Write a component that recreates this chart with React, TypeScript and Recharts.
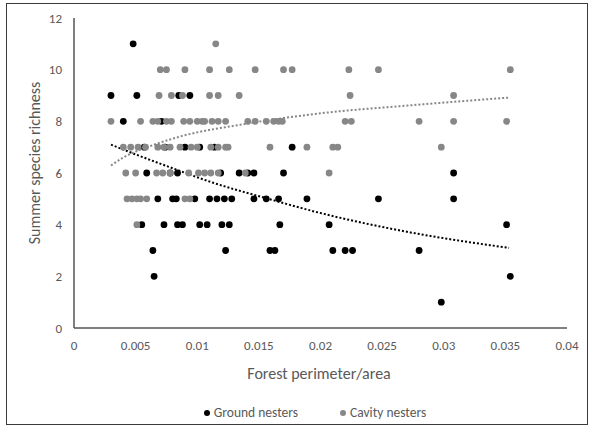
import { ComposedChart, Scatter, Line, XAxis, YAxis } from 'recharts';

// richness values, one array per y level
const groundX: number[] = [
  0.0048,
  0.003, 0.0051, 0.0085, 0.0094,
  0.004, 0.0071,
  0.0057, 0.0074, 0.009, 0.0102, 0.0114, 0.0177,
  0.0059, 0.0078, 0.0084, 0.0119, 0.0134, 0.0141, 0.0146, 0.017, 0.0308,
  0.0068, 0.008, 0.0083, 0.0098, 0.011, 0.0116, 0.0122, 0.0128, 0.0146, 0.0156, 0.0166, 0.0189, 0.0247, 0.0308,
  0.0055, 0.0073, 0.0084, 0.0088, 0.0102, 0.0108, 0.012, 0.0126, 0.0167, 0.0207, 0.0351,
  0.0064, 0.0123, 0.0159, 0.0163, 0.021, 0.022, 0.0226, 0.028,
  0.0065, 0.0354,
  0.0298,
];
const groundY: number[] = [
  11,
  9, 9, 9, 9,
  8, 8,
  7, 7, 7, 7, 7, 7,
  6, 6, 6, 6, 6, 6, 6, 6, 6,
  5, 5, 5, 5, 5, 5, 5, 5, 5, 5, 5, 5, 5, 5,
  4, 4, 4, 4, 4, 4, 4, 4, 4, 4, 4,
  3, 3, 3, 3, 3, 3, 3, 3,
  2, 2,
  1,
];

const cavityX: number[] = [
  0.0115,
  0.007, 0.0075, 0.009, 0.011, 0.0126, 0.0147, 0.017, 0.0177, 0.0223, 0.0247, 0.0354,
  0.0069, 0.0079, 0.0088, 0.011, 0.0117, 0.0134, 0.0224, 0.0308,
  0.003, 0.0054, 0.0064, 0.0068, 0.0075, 0.0079, 0.0089, 0.0094, 0.01, 0.0104, 0.0106, 0.0112, 0.0117, 0.0123,
  0.0141, 0.0147, 0.0156, 0.0162, 0.0166, 0.0169, 0.022, 0.0225, 0.028, 0.0308, 0.0351,
  0.004, 0.0046, 0.0052, 0.0058, 0.0068, 0.0073, 0.0078, 0.0086, 0.0095, 0.01, 0.0111, 0.0117, 0.0123, 0.0125,
  0.0159, 0.0189, 0.021, 0.0214, 0.0298,
  0.0042, 0.005, 0.0067, 0.0072, 0.0078, 0.0093, 0.0101, 0.0106, 0.0111, 0.0117, 0.0139, 0.0207,
  0.0043, 0.0047, 0.0051, 0.0054, 0.0059, 0.009, 0.0094,
  0.0051,
];
const cavityY: number[] = [
  11,
  10, 10, 10, 10, 10, 10, 10, 10, 10, 10, 10,
  9, 9, 9, 9, 9, 9, 9, 9,
  8, 8, 8, 8, 8, 8, 8, 8, 8, 8, 8, 8, 8, 8,
  8, 8, 8, 8, 8, 8, 8, 8, 8, 8, 8,
  7, 7, 7, 7, 7, 7, 7, 7, 7, 7, 7, 7, 7, 7,
  7, 7, 7, 7, 7,
  6, 6, 6, 6, 6, 6, 6, 6, 6, 6, 6, 6,
  5, 5, 5, 5, 5, 5, 5,
  4,
];

// trendline points
const groundTrendX = [0.003, 0.005, 0.0078, 0.0113, 0.0154, 0.02, 0.0273, 0.0353];
const groundTrendY = [7.1, 6.72, 6.22, 5.62, 5.05, 4.45, 3.7, 3.1];
const cavityTrendX = [0.003, 0.004, 0.005, 0.0064, 0.0086, 0.0139, 0.02, 0.0273, 0.0353];
const cavityTrendY = [6.29, 6.6, 6.83, 7.08, 7.41, 7.9, 8.31, 8.62, 8.92];

const xTicks = [0, 0.005, 0.01, 0.015, 0.02, 0.025, 0.03, 0.035, 0.04];
const yTicks = [0, 2, 4, 6, 8, 10, 12];

const FONT = 'Carlito, Lato, sans-serif';
const TEXT = '#595959';
const BLACK = '#000000';
const GRAY = '#878787';

const zip = (xs: number[], ys: number[]) => xs.map((x, i) => ({ x, y: ys[i] }));

const ground = zip(groundX, groundY);
const cavity = zip(cavityX, cavityY);
const groundTrend = zip(groundTrendX, groundTrendY);
const cavityTrend = zip(cavityTrendX, cavityTrendY);

const dot = (fill: string) => (props: any) => (
  <circle cx={props.cx} cy={props.cy} r={3.4} fill={fill} />
);

export default function App() {
  return (
    <div style={{ position: 'absolute', left: 0, top: 0, width: 590, height: 429, background: '#fff', fontFamily: FONT }}>
      <div style={{ position: 'absolute', left: 6, top: 3, width: 580, height: 420, border: '1px solid #3a3a3a' }} />
      <div style={{ position: 'absolute', left: 0, top: 0 }}>
        <ComposedChart width={590} height={429} margin={{ top: 18, right: 23, left: 0, bottom: 71 }}>
          <XAxis
            dataKey="x"
            type="number"
            domain={[0, 0.04]}
            ticks={xTicks}
            tickFormatter={(v: number) => String(v)}
            height={30}
            tickLine={false}
            tickSize={0}
            tickMargin={13}
            stroke="#555"
            strokeWidth={1.5}
            tick={{ fill: TEXT, fontSize: 13, fontFamily: FONT }}
            allowDataOverflow
            label={{
              content: () => (
                <text x={319} y={373} textAnchor="middle" dominantBaseline="central" fill={TEXT} fontSize={16} fontFamily={FONT}>
                  Forest perimeter/area
                </text>
              ),
            }}
          />
          <YAxis
            dataKey="y"
            type="number"
            domain={[0, 12]}
            ticks={yTicks}
            width={74}
            tickLine={false}
            tickSize={0}
            tickMargin={12}
            stroke="#555"
            strokeWidth={1.5}
            tick={{ fill: TEXT, fontSize: 13, fontFamily: FONT }}
            label={{
              content: () => (
                <text x={34} y={163} transform="rotate(-90 34 163)" textAnchor="middle" dominantBaseline="central" fill={TEXT} fontSize={16} fontFamily={FONT}>
                  Summer species richness
                </text>
              ),
            }}
          />
          <Scatter name="Ground nesters" data={ground} fill={BLACK} shape={dot(BLACK)} isAnimationActive={false} />
          <Scatter name="Cavity nesters" data={cavity} fill={GRAY} shape={dot(GRAY)} isAnimationActive={false} />
          <Line
            data={groundTrend}
            dataKey="y"
            type="monotone"
            stroke={BLACK}
            strokeWidth={2}
            strokeDasharray="2 2"
            dot={false}
            activeDot={false}
            legendType="none"
            isAnimationActive={false}
          />
          <Line
            data={cavityTrend}
            dataKey="y"
            type="monotone"
            stroke={GRAY}
            strokeWidth={2}
            strokeDasharray="2 2"
            dot={false}
            activeDot={false}
            legendType="none"
            isAnimationActive={false}
          />
        </ComposedChart>
      </div>
      <div style={{ position: 'absolute', top: 404, left: 20, width: 590, display: 'flex', justifyContent: 'center', gap: 42, fontSize: 13.5, color: TEXT }}>
        <span style={{ display: 'flex', alignItems: 'center', gap: 4 }}>
          <span style={{ width: 6, height: 6, borderRadius: 3, background: BLACK, display: 'inline-block' }} />
          Ground nesters
        </span>
        <span style={{ display: 'flex', alignItems: 'center', gap: 4 }}>
          <span style={{ width: 6, height: 6, borderRadius: 3, background: GRAY, display: 'inline-block' }} />
          Cavity nesters
        </span>
      </div>
    </div>
  );
}
